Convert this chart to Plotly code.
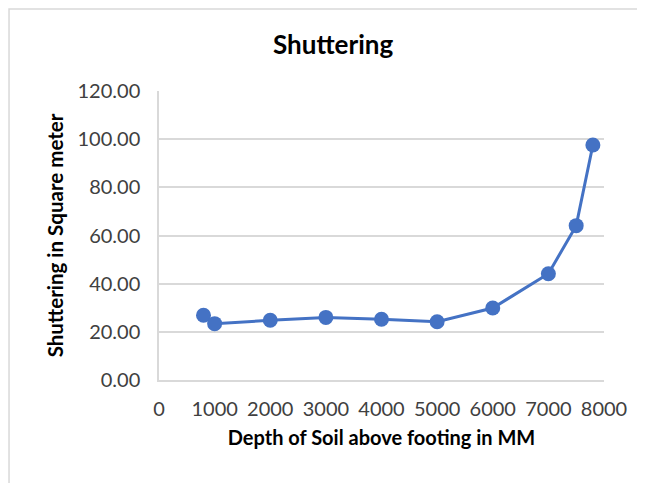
import plotly.graph_objects as go

# Depth of soil above footing (mm) vs shuttering area (sq. m)
depth_mm = [800, 1000, 2000, 3000, 4000, 5000, 6000, 7000, 7500, 7800]
shuttering_sqm = [26.9, 23.4, 24.8, 26.0, 25.2, 24.2, 29.9, 44.1, 64.1, 97.6]

x_ticks = [0, 1000, 2000, 3000, 4000, 5000, 6000, 7000, 8000]
y_ticks = [0, 20, 40, 60, 80, 100, 120]

BLUE = "#4472C4"
GRID = "#D9D9D9"
FONT = "Lato, Open Sans, sans-serif"

fig = go.Figure(go.Scatter(
    x=depth_mm, y=shuttering_sqm, mode="lines+markers",
    line=dict(color=BLUE, width=3),
    marker=dict(color=BLUE, size=15),
    showlegend=False,
))

# page body has an 8px margin, so plot area lands at x 159..604, y 91..380
fig.update_layout(
    width=645, height=483,
    paper_bgcolor="white", plot_bgcolor="white",
    margin=dict(l=151, r=49, t=83, b=111),
    font=dict(family=FONT, color="#404040", size=20),
    title=dict(text="<b>Shuttering</b>", x=0.504, xanchor="center", y=0.923,
               yanchor="middle", font=dict(size=26, color="#000000")),
    shapes=[dict(type="rect", xref="paper", yref="paper",
                 x0=-0.337, x1=1.2, y0=-0.4, y1=1.284,
                 line=dict(color=GRID, width=1.5))],
)

fig.update_xaxes(
    range=[0, 8000], tickvals=x_ticks, showgrid=False,
    showline=True, linecolor=GRID, linewidth=1.5,
    ticks="outside", ticklen=10, tickcolor="rgba(0,0,0,0)",
    title=dict(text="<b>Depth of Soil above footing in MM</b>",
               font=dict(size=20, color="#000000"), standoff=12),
    zeroline=False,
)
fig.update_yaxes(
    range=[0, 120], tickvals=y_ticks, tickformat=".2f",
    showgrid=True, gridcolor=GRID, gridwidth=1.5,
    showline=True, linecolor=GRID, linewidth=1.5,
    ticks="outside", ticklen=13, tickcolor="rgba(0,0,0,0)",
    zeroline=False,
    title=dict(text="<b>Shuttering in Square meter</b>",
               font=dict(size=20.5, color="#000000"), standoff=8),
)

fig.write_html("out.html")
